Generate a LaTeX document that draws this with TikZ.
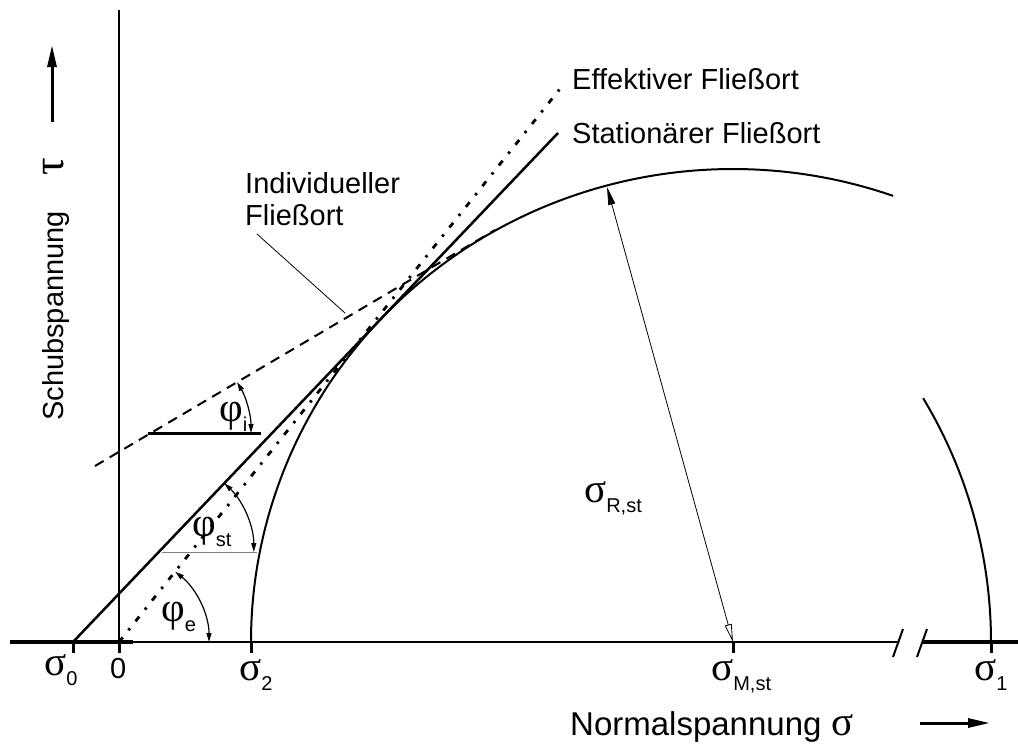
\documentclass[tikz,border=0pt]{standalone}
\usepackage{fontspec}
\setmainfont{Liberation Sans}
\newfontfamily\grk{Liberation Serif}
\usetikzlibrary{arrows.meta}
\newcommand\gk[1]{{\grk\fontsize{41}{41}\selectfont #1}}
\newcommand\sbs[1]{\raisebox{-10pt}{\fontsize{20}{20}\selectfont #1}}
\begin{document}
\begin{tikzpicture}[x=1pt,y=-1pt,
  lab/.style={inner sep=0pt, anchor=base west, font=\fontsize{29}{32}\selectfont},
  axlab/.style={inner sep=0pt, anchor=base west, font=\fontsize{33}{36}\selectfont},
  gl/.style={inner sep=0pt, anchor=base west},
  thinax/.style={line width=1.5pt},
  thickax/.style={line width=3.5pt},
  tickmark/.style={line width=3pt},
  stat/.style={line width=2.5pt},
  eff/.style={line width=2.8pt, dash pattern=on 6pt off 9pt on 2.5pt off 9pt},
  indiv/.style={line width=2pt, dash pattern=on 10pt off 7pt},
  mohr/.style={line width=2pt},
  angarc/.style={line width=1.2pt, >={Triangle[length=9pt,width=5pt]}, <->},
  bigarrow/.style={line width=3pt, >={Triangle[length=22pt,width=9pt]}, ->},
]
\useasboundingbox (0,0) rectangle (1018,745);
% key points
\coordinate (O) at (119,642);
\coordinate (S0) at (73,642);
\coordinate (S2) at (251,642);
\coordinate (SM) at (733,642);
\coordinate (S1) at (991,642);
\coordinate (statEnd) at (558,133);
\coordinate (effEnd) at (563,85);
\coordinate (indA) at (95,466);
\coordinate (indB) at (495,230);
\coordinate (Rtop) at (607,187);
% axes
\draw[thickax] (10,642) -- (133,642);
\draw[thinax] (133,642) -- (898,642);
\draw[thickax] (922,642) -- (1018,642);
\draw[line width=2pt] (893,657) -- (903,629);
\draw[line width=2pt] (917,657) -- (927,629);
\draw[thinax] (119,10) -- (O);
\foreach \x in {73,119,251,733,991} \draw[tickmark] (\x,642) -- (\x,653);
% Mohr circles
\draw[mohr] (S2) arc[start angle=-180, end angle=-70.6, x radius=482, y radius=473];
\draw[mohr] (S1) arc[start angle=0, end angle=-31.1, radius=472];
% yield loci
\draw[stat] (S0) -- (statEnd);
\draw[eff] (O) -- (effEnd);
\draw[indiv] (indA) -- (indB);
% phi_i
\draw[line width=3pt] (148,433) -- (261,433);
\draw[angarc] (151,433) ++(-30.6:100) arc[start angle=-30.6, end angle=0, radius=100];
% phi_st
\draw[gray, line width=1pt] (162,552) -- (257,552);
\draw[angarc] (158.8,552) ++(-46.4:95) arc[start angle=-46.4, end angle=0, radius=95];
% phi_e
\draw[angarc] (O) ++(-51.4:90) arc[start angle=-51.4, end angle=0, radius=90];
% radius arrow
\draw[line width=0.8pt, {Triangle[open,length=18pt,width=7pt]}-{Triangle[length=18pt,width=7pt]}] (SM) -- (Rtop);
% leader
\draw[line width=0.8pt] (257,234) -- (345,313);
% axis arrows
\draw[bigarrow] (52,122) -- (52,45);
\draw[bigarrow] (920,723) -- (990,723);
% labels
\node[gl] (ls0) at (44,675) {\gk{σ}\sbs{0}};
\node[lab] (l0) at (110,678) {0};
\node[gl] (ls2) at (239,680) {\gk{σ}\sbs{2}};
\node[gl] (lsm) at (711,680) {\gk{σ}\sbs{M,st}};
\node[gl] (ls1) at (974,680) {\gk{σ}\sbs{1}};
\node[gl] (lsr) at (584,502) {\gk{σ}\sbs{R,st}};
\node[gl] (lpi) at (219,421) {\gk{φ}\sbs{i}};
\node[gl] (lpst) at (192,536) {\gk{φ}\sbs{st}};
\node[gl] (lpe) at (161,621) {\gk{φ}\sbs{e}};
\node[lab] (leff) at (572,89) {Effektiver Fließort};
\node[lab] (lstat) at (572,143) {Stationärer Fließort};
\node[lab] (lind1) at (245,193) {Individueller};
\node[lab] (lind2) at (245,225) {Fließort};
\node[axlab] (lx) at (570,735) {Normalspannung\hspace{10pt}\gk{σ}};
\node[lab, rotate=90] (ly) at (63,421) {Schubspannung\hspace{36pt}{\grk\fontsize{44}{44}\selectfont τ}};
\end{tikzpicture}
\end{document}
